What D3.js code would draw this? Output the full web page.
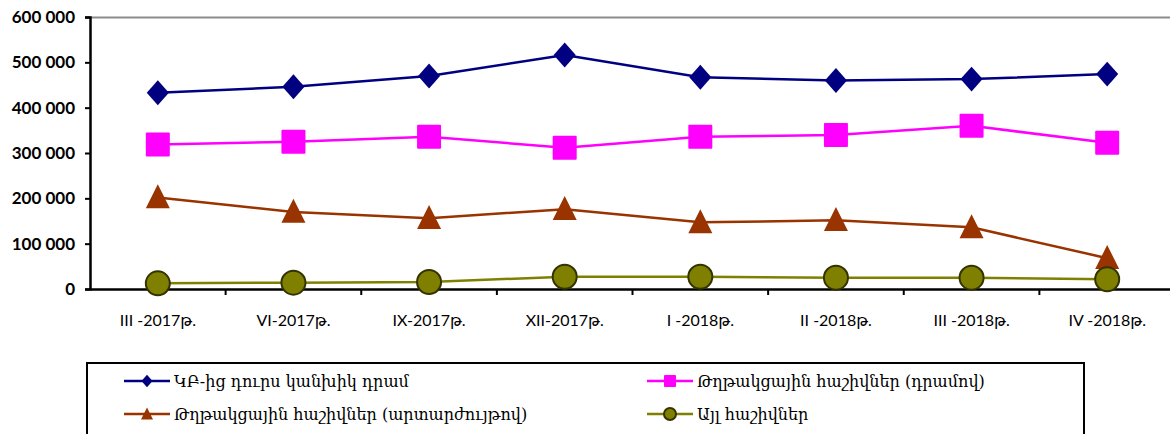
<!DOCTYPE html>
<html>
  <head>
    <meta charset="utf-8">
    <script src="https://d3js.org/d3.v7.min.js"></script>
    <style>
      body { margin: 0; background: #fff; }
    </style>
  </head>
  <body>
    <svg width="1170" height="434"></svg>
    <script>
      const categories = ["III -2017թ.", "VI-2017թ.", "IX-2017թ.", "XII-2017թ.",
                          "I -2018թ.", "II -2018թ.", "III -2018թ.", "IV -2018թ."];
      const cashOutside = [433000, 446000, 470000, 516000, 467000, 460000, 463000, 474000];
      const currentDram = [319000, 325000, 336000, 311500, 336000, 339500, 360000, 322500];
      const currentFx = [202000, 170000, 156000, 176000, 147000, 151500, 136000, 68000];
      const otherAcc = [12500, 14000, 15500, 27000, 27000, 25000, 25000, 21500];
      const yTicks = [0, 100000, 200000, 300000, 400000, 500000, 600000];

      const series = [
        {name: "ԿԲ-ից դուրս կանխիկ դրամ", values: cashOutside, color: "#000080", shape: "diamond"},
        {name: "Թղթակցային հաշիվներ (դրամով)", values: currentDram, color: "#ff00ff", shape: "square"},
        {name: "Թղթակցային հաշիվներ (արտարժույթով)", values: currentFx, color: "#993300", shape: "triangle"},
        {name: "Այլ հաշիվներ", values: otherAcc, color: "#808000", shape: "circle"}
      ];

      const svg = d3.select("svg");
      const plotL = 90, plotR = 1175, plotT = 17, plotB = 289;

      const x = d3.scaleBand().domain(categories).range([plotL, plotR]);
      const y = d3.scaleLinear().domain([0, 600000]).range([plotB, plotT]);
      const fmt = v => d3.format(",")(v).replace(/,/g, " ");

      // top border of plot
      svg.append("line")
        .attr("x1", plotL).attr("x2", 1170).attr("y1", plotT + 0.5).attr("y2", plotT + 0.5)
        .attr("stroke", "#8c8c8c").attr("stroke-width", 2);

      const yAxis = svg.append("g")
        .attr("transform", `translate(${plotL},0)`)
        .call(d3.axisLeft(y).tickValues(yTicks).tickFormat(fmt).tickSize(5).tickPadding(10));
      yAxis.select(".domain").attr("stroke", "#000").attr("stroke-width", 2.5);
      yAxis.selectAll(".tick line").attr("stroke", "#000").attr("stroke-width", 2);
      yAxis.selectAll("text")
        .attr("font-family", "Lato, 'DejaVu Sans', sans-serif")
        .attr("font-weight", "bold").attr("font-size", 17).attr("fill", "#000");

      const xAxis = svg.append("g")
        .attr("transform", `translate(0,${plotB})`)
        .call(d3.axisBottom(x).tickSize(0).tickPadding(26));
      xAxis.select(".domain").attr("stroke", "#000").attr("stroke-width", 2.5);
      xAxis.selectAll("text")
        .attr("font-family", "Lato, 'DejaVu Sans', sans-serif")
        .attr("font-size", 16).attr("fill", "#000");
      // tick marks between categories
      xAxis.selectAll(".sep")
        .data(categories.slice(1))
        .join("line")
        .attr("x1", d => x(d)).attr("x2", d => x(d))
        .attr("y1", 0).attr("y2", 6)
        .attr("stroke", "#000").attr("stroke-width", 2);

      const cx = c => x(c) + x.bandwidth() / 2;

      function marker(g, shape, color, s) {
        if (shape === "diamond") {
          g.append("path")
            .attr("d", `M0,${-s * 0.52} L${s * 0.46},0 L0,${s * 0.52} L${-s * 0.46},0 Z`)
            .attr("fill", color);
        } else if (shape === "square") {
          g.append("rect")
            .attr("x", -s / 2).attr("y", -s / 2).attr("width", s).attr("height", s)
            .attr("rx", 1).attr("fill", color);
        } else if (shape === "triangle") {
          g.append("path")
            .attr("d", `M0,${-s * 0.55} L${s / 2},${s * 0.45} L${-s / 2},${s * 0.45} Z`)
            .attr("fill", color);
        } else {
          g.append("circle").attr("r", s / 2)
            .attr("fill", color).attr("stroke", "#333300").attr("stroke-width", 2);
        }
      }

      const line = d3.line().x(d => cx(d.c)).y(d => y(d.v));

      series.forEach(s => {
        const pts = categories.map((c, i) => ({c: c, v: s.values[i]}));
        svg.append("path")
          .attr("d", line(pts))
          .attr("fill", "none").attr("stroke", s.color).attr("stroke-width", 2.5);
        pts.forEach(p => {
          const g = svg.append("g").attr("transform", `translate(${cx(p.c)},${y(p.v)})`);
          marker(g, s.shape, s.color, 24);
        });
      });

      // legend
      svg.append("rect")
        .attr("x", 87).attr("y", 363).attr("width", 997).attr("height", 90)
        .attr("fill", "none").attr("stroke", "#000").attr("stroke-width", 2);

      const legendPos = [[124, 381], [647, 381], [124, 414], [647, 414]];
      series.forEach((s, i) => {
        const [lx, ly] = legendPos[i];
        const g = svg.append("g").attr("transform", `translate(${lx},${ly})`);
        g.append("line").attr("x1", 0).attr("x2", 46).attr("y1", 0).attr("y2", 0)
          .attr("stroke", s.color).attr("stroke-width", 2.5);
        const m = g.append("g").attr("transform", "translate(23,0)");
        marker(m, s.shape, s.color, 12);
        g.append("text")
          .attr("x", 50).attr("y", 6)
          .attr("font-family", "'DejaVu Serif', serif")
          .attr("font-size", 16).attr("fill", "#000")
          .text(s.name);
      });
    </script>
  </body>
</html>
